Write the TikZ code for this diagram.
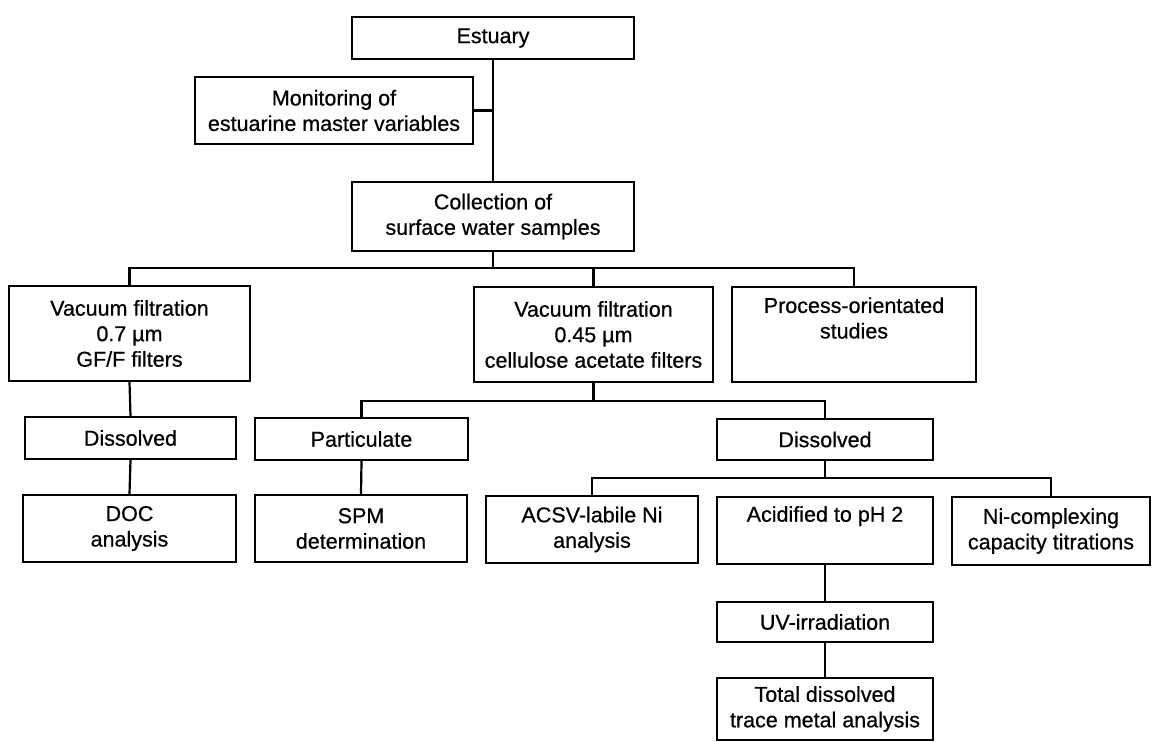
\documentclass[tikz,border=0pt]{standalone}
\usepackage{fontspec}
\setmainfont{Liberation Sans}
\newfontfamily\diafont{Liberation Sans}[FakeBold=0.6]
\begin{document}
\begin{tikzpicture}[x=1pt,y=1pt,
  box/.style={draw, line width=2.2pt, inner sep=0pt, align=center,
    font=\diafont\fontsize{21.5}{25.5}\selectfont},
  conn/.style={line width=2.2pt}]
\useasboundingbox (0,0) rectangle (1155,741);
\node[box, minimum width=282, minimum height=42] (est) at (493,703) {Estuary};
\node[box, minimum width=278, minimum height=67] (mon) at (334,630.5) {Monitoring of\\estuarine master variables};
\node[box, minimum width=282, minimum height=69] (col) at (493,524.5) {Collection of\\surface water samples};
\node[box, minimum width=241, minimum height=95] (vac7) at (129.5,407.5) {Vacuum filtration\\0.7 µm\\GF/F filters};
\node[box, minimum width=239, minimum height=95] (vac45) at (593.5,406.5) {Vacuum filtration\\0.45 µm\\cellulose acetate filters};
\node[box, minimum width=244, minimum height=95] (proc) at (854,406.5) {Process-orientated\\studies\\\strut};
\node[box, minimum width=211, minimum height=42] (disL) at (130.5,303) {Dissolved};
\node[box, minimum width=213, minimum height=42] (part) at (361.5,302) {Particulate};
\node[box, minimum width=216, minimum height=41] (disR) at (825,301.5) {Dissolved};
\node[box, minimum width=213, minimum height=67] (doc) at (129.5,212.5) {DOC\\analysis};
\node[box, minimum width=212, minimum height=67] (spm) at (361,212.5) {SPM\\determination};
\node[box, minimum width=212, minimum height=67] (acsv) at (592,211.5) {ACSV-labile Ni\\analysis};
\node[box, minimum width=216, minimum height=67] (acid) at (825,210.5) {Acidified to pH 2\\\strut};
\node[box, minimum width=198, minimum height=68] (ni) at (1051,210) {Ni-complexing\\capacity titrations};
\node[box, minimum width=216, minimum height=40] (uv) at (825,119) {UV-irradiation};
\node[box, minimum width=216, minimum height=62] (tot) at (825,32) {Total dissolved\\trace metal analysis};
\coordinate (b1) at (0,473);
\coordinate (b2) at (0,340);
\coordinate (b3) at (0,263);
\draw[conn] (est.south) -- (col.north);
\draw[conn] (mon.east) -- (mon.east -| est.south);
\draw[conn] (col.south) -- (col.south |- b1);
\draw[conn] (vac7.north) -- (vac7.north |- b1) -- (proc.north |- b1) -- (proc.north);
\draw[conn] (vac45.north) -- (vac45.north |- b1);
\draw[conn] (vac7.south) -- (disL.north);
\draw[conn] (disL.south) -- (doc.north);
\draw[conn] (vac45.south) -- (vac45.south |- b2);
\draw[conn] (part.north) -- (part.north |- b2) -- (disR.north |- b2) -- (disR.north);
\draw[conn] (part.south) -- (spm.north);
\draw[conn] (disR.south) -- (disR.south |- b3);
\draw[conn] (acsv.north) -- (acsv.north |- b3) -- (ni.north |- b3) -- (ni.north);
\draw[conn] (acid.south) -- (uv.north);
\draw[conn] (uv.south) -- (tot.north);
\end{tikzpicture}
\end{document}
